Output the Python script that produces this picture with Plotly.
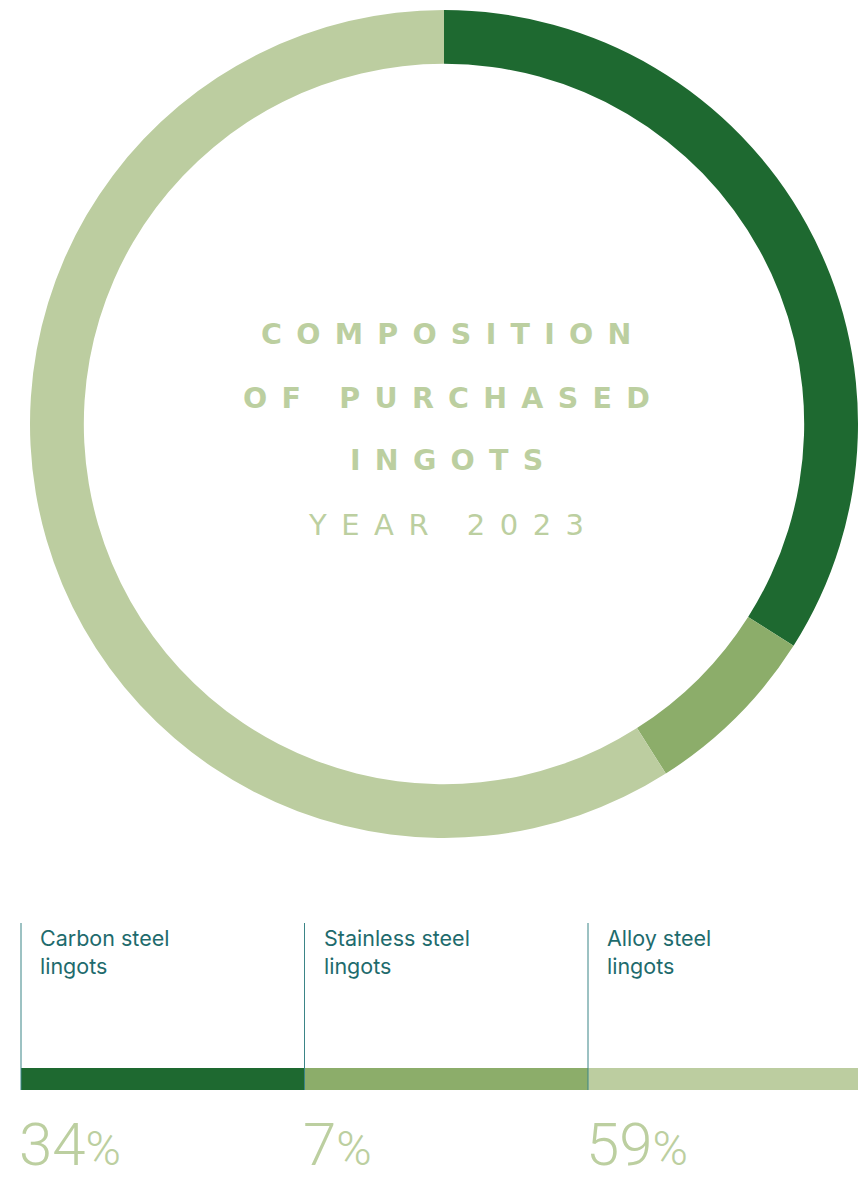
import plotly.graph_objects as go

# Purchased ingot composition, year 2023
categories = ["Carbon steel lingots", "Stainless steel lingots", "Alloy steel lingots"]
label_lines = [["Carbon steel", "lingots"], ["Stainless steel", "lingots"], ["Alloy steel", "lingots"]]
shares = [34, 7, 59]
colors = ["#1E6930", "#8CAD6A", "#BCCDA0"]

title_lines = ["COMPOSITION", "OF PURCHASED", "INGOTS"]
subtitle = "YEAR 2023"

W, H = 858, 1181
TEXT_LIGHT = "#BCCFA0"
TEAL = "#1E6B6D"


def spaced(s, gap="\u2002"):
    # spread letters apart; word breaks get an extra slot
    out = []
    for word in s.split(" "):
        out.append(gap.join(word))
    return (gap + "\u00a0" + gap).join(out)


fig = go.Figure()

# donut ring
fig.add_trace(go.Pie(
    labels=categories,
    values=shares,
    hole=0.87,
    sort=False,
    direction="clockwise",
    rotation=0,
    textinfo="none",
    hoverinfo="label+percent",
    marker=dict(colors=colors, line=dict(width=0)),
    domain=dict(x=[30 / W, 1.0], y=[1 - 838 / H, 1 - 10 / H]),
    showlegend=False,
))

# swatch bars under the labels, one column per category
col_idx = list(range(len(categories)))
fig.add_trace(go.Bar(
    x=[i + 0.5 for i in col_idx],
    y=[22] * len(col_idx),
    base=[1068] * len(col_idx),
    width=[1] * len(col_idx),
    marker=dict(color=colors, line=dict(width=0)),
    hoverinfo="skip",
    showlegend=False,
    xaxis="x",
    yaxis="y",
))

col_w = 283.5
x0_px = 21
fig.update_layout(
    width=W, height=H,
    margin=dict(l=0, r=0, t=0, b=0),
    paper_bgcolor="white",
    plot_bgcolor="rgba(0,0,0,0)",
    xaxis=dict(range=[-x0_px / col_w, (W - x0_px) / col_w], domain=[0, 1],
               visible=False, fixedrange=True),
    yaxis=dict(range=[H, 0], domain=[0, 1], visible=False, fixedrange=True),
    bargap=0,
)

shapes = []
annotations = []

# column divider lines and category labels
for i in col_idx:
    shapes.append(dict(type="line", xref="x", yref="y", x0=i, x1=i, y0=923, y1=1090,
                       line=dict(color="#3B8587", width=1), layer="above"))
    annotations.append(dict(
        xref="x", yref="y", x=i + 17 / col_w, y=923,
        xanchor="left", yanchor="top", showarrow=False, align="left",
        text="<br>".join(label_lines[i]),
        font=dict(family="Inter, Lato, sans-serif", size=21.5, color=TEAL),
    ))
    annotations.append(dict(
        xref="x", yref="paper", x=i - 3 / col_w, y=0,
        xanchor="left", yanchor="bottom", showarrow=False, align="left",
        borderpad=0,
        text=f"{shares[i]}<span style='font-size:48px'>%</span>",
        font=dict(family="Roboto, sans-serif", size=60, color=TEXT_LIGHT, weight=300),
    ))

# centre title
title_y = [334, 398, 461]
for line, yy in zip(title_lines, title_y):
    annotations.append(dict(
        xref="paper", yref="paper", x=446 / W, y=1 - yy / H,
        xanchor="center", yanchor="middle", showarrow=False,
        text=spaced(line),
        font=dict(family="DejaVu Sans, sans-serif", size=28.5, color=TEXT_LIGHT, weight="bold"),
    ))
annotations.append(dict(
    xref="paper", yref="paper", x=446 / W, y=1 - 525 / H,
    xanchor="center", yanchor="middle", showarrow=False,
    text=spaced(subtitle),
    font=dict(family="DejaVu Sans, sans-serif", size=29, color=TEXT_LIGHT),
))

fig.update_layout(shapes=shapes, annotations=annotations)

fig.write_html("out.html", config=dict(displayModeBar=False))
